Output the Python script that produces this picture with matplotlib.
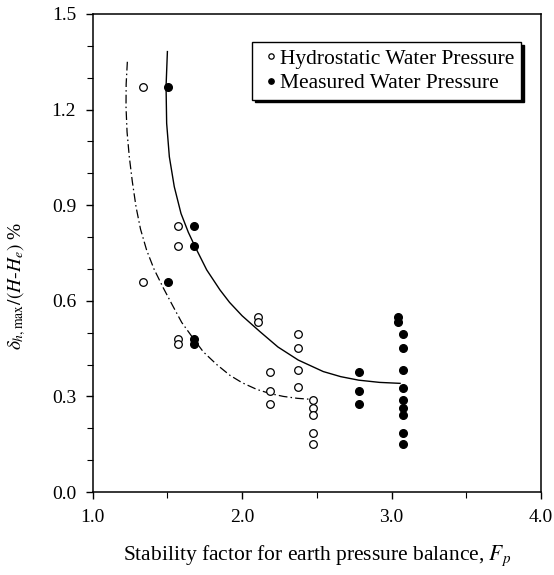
import numpy as np
import matplotlib
matplotlib.use('Agg')
import matplotlib.pyplot as plt
from matplotlib.ticker import MultipleLocator, FormatStrFormatter

plt.rcParams['font.family'] = ['Liberation Serif', 'DejaVu Serif']
plt.rcParams['mathtext.fontset'] = 'stix'

# 静水圧 (open circles)
hyd_x = [1.335, 1.573, 1.573, 1.335, 1.573, 1.573, 2.104, 2.104,
         2.185, 2.185, 2.185, 2.376, 2.376, 2.376, 2.376,
         2.475, 2.475, 2.475, 2.475, 2.475]
hyd_y = [1.270, 0.835, 0.773, 0.658, 0.480, 0.465, 0.548, 0.535,
         0.378, 0.317, 0.275, 0.497, 0.451, 0.382, 0.328,
         0.289, 0.265, 0.242, 0.184, 0.152]

# 実測水圧 (filled circles)
mea_x = [1.502, 1.678, 1.678, 1.502, 1.678, 1.678, 3.040, 3.040,
         2.780, 2.780, 2.780, 3.075, 3.075, 3.075, 3.075,
         3.075, 3.075, 3.075, 3.075, 3.075]
mea_y = [1.270, 0.835, 0.773, 0.658, 0.480, 0.465, 0.550, 0.535,
         0.378, 0.317, 0.275, 0.497, 0.451, 0.382, 0.327,
         0.288, 0.263, 0.242, 0.184, 0.152]

# fitted curves
fit_mea_x = [1.500, 1.491, 1.495, 1.513, 1.546, 1.591, 1.640, 1.685, 1.763, 1.852,
             1.916, 2.000, 2.120, 2.240, 2.376, 2.543, 2.660, 2.780, 2.920, 3.057]
fit_mea_y = [1.382, 1.272, 1.157, 1.052, 0.958, 0.874, 0.815, 0.770, 0.697, 0.634,
             0.595, 0.553, 0.503, 0.455, 0.414, 0.378, 0.362, 0.351, 0.344, 0.341]
fit_hyd_x = [1.232, 1.224, 1.223, 1.230, 1.245, 1.265, 1.290, 1.320, 1.361, 1.410,
             1.473, 1.535, 1.596, 1.673, 1.740, 1.830, 1.919, 2.000, 2.098, 2.187,
             2.276, 2.370, 2.455]
fit_hyd_y = [1.350, 1.280, 1.209, 1.130, 1.052, 0.975, 0.895, 0.825, 0.759, 0.700,
             0.640, 0.585, 0.532, 0.482, 0.440, 0.400, 0.366, 0.343, 0.322, 0.309,
             0.300, 0.294, 0.291]

fig = plt.figure(figsize=(5.54, 5.75), dpi=100)
ax = fig.add_axes([0.1673, 0.1443, 0.8092, 0.8314])

ax.plot(fit_mea_x, fit_mea_y, color='black', lw=1.0)
ax.plot(fit_hyd_x, fit_hyd_y, color='black', lw=0.9, linestyle=(0, (7, 2.5, 1.2, 2.5)))

ax.plot(hyd_x, hyd_y, 'o', ms=5.5, mfc='white', mec='black', mew=0.9,
        label='Hydrostatic Water Pressure', linestyle='none')
ax.plot(mea_x, mea_y, 'o', ms=5.5, mfc='black', mec='black',
        label='Measured Water Pressure', linestyle='none')

ax.set_xlim(1.0, 4.0)
ax.set_ylim(0.0, 1.5)
ax.xaxis.set_major_locator(MultipleLocator(1.0))
ax.xaxis.set_minor_locator(MultipleLocator(0.5))
ax.yaxis.set_major_locator(MultipleLocator(0.3))
ax.yaxis.set_minor_locator(MultipleLocator(0.1))
ax.xaxis.set_major_formatter(FormatStrFormatter('%.1f'))
ax.yaxis.set_major_formatter(FormatStrFormatter('%.1f'))
ax.tick_params(which='major', direction='out', length=5, width=1.0, labelsize=14, pad=7)
ax.tick_params(which='minor', direction='out', length=4.5, width=0.8)
for s in ax.spines.values():
    s.set_linewidth(1.1)

ax.set_xlabel(r'Stability factor for earth pressure balance, $F_p$', fontsize=15.5, labelpad=13)
ax.set_ylabel(r'$\delta_{h,\mathrm{max}}/(H$-$H_e)$ %', fontsize=14)
ax.yaxis.set_label_coords(-0.145, 0.43)

leg = ax.legend(loc='upper right', bbox_to_anchor=(0.955, 0.941), borderaxespad=0,
                fontsize=15.5, frameon=True, fancybox=False, edgecolor='black',
                framealpha=1, handlelength=1.2, handletextpad=-0.2, markerscale=0.7,
                labelspacing=0.2, borderpad=0.3,
                shadow={'color': 'black', 'alpha': 1})
leg.get_frame().set_linewidth(1.0)

fig.savefig('out.png', dpi=100)
